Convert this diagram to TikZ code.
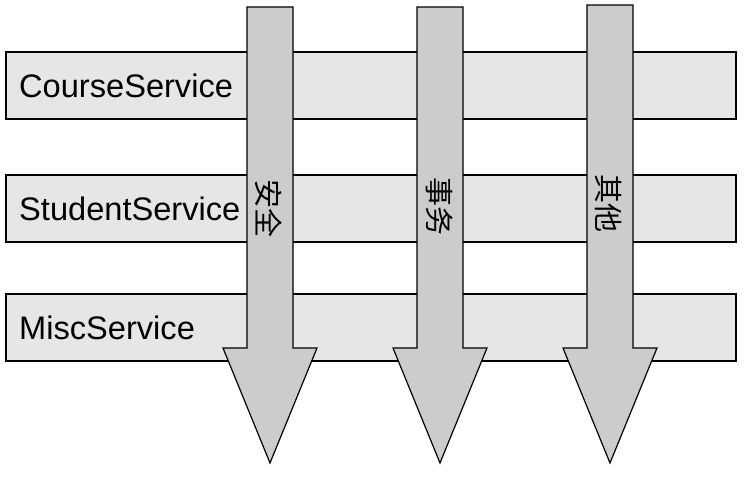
\documentclass[tikz,border=0pt]{standalone}
\usepackage{fontspec}
\setmainfont{Liberation Sans}
\newfontfamily\cjk{Noto Sans CJK SC}
\usepackage{xcolor}
\definecolor{barfill}{HTML}{E6E6E6}
\definecolor{arrowfill}{HTML}{CCCCCC}

\begin{document}
\begin{tikzpicture}[x = 1pt, y = -1pt]
\useasboundingbox (0,0) rectangle (748,480);
\foreach \name/\top in {CourseService/52, StudentService/175, MiscService/294}{
  \draw[fill = barfill, line width = 1.2pt] (6,\top) rectangle (736,\top+67);
  \node[anchor = west, inner sep = 0pt, font = \fontsize{32.6}{36}\selectfont] (\name) at (19,\top+33.5) {\name};
}
\foreach \x/\top/\ly/\lbl [count = \i] in {270/7/208/安全, 440/7/206/事务, 610/5/203/其他}{
  \draw[fill = arrowfill, line width = 1.2pt] (\x-23,\top) -- (\x+23,\top) -- (\x+23,348) -- (\x+47,348) -- (\x,463) -- (\x-47,348) -- (\x-23,348) -- cycle;
  \node[rotate = -90, inner sep = 0pt, font = \cjk\fontsize{29}{31}\selectfont] (aspect\i) at (\x-1,\ly) {\lbl};
}
\end{tikzpicture}
\end{document}
